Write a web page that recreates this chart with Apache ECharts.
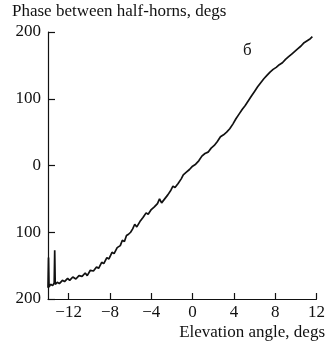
<!DOCTYPE html>
<html>
<head>
<meta charset="utf-8">
<script src="https://cdn.jsdelivr.net/npm/echarts@6/dist/echarts.min.js"></script>
<style>
html,body{margin:0;padding:0;background:#fff;}
#c{width:328px;height:347px;}
</style>
</head>
<body>
<div id="c"></div>
<script>
var xTicks = [-12, -8, -4, 0, 4, 8, 12];
var yTicks = [-200, -100, 0, 100, 200];
var elevation = [-14.0,-13.95,-13.9,-13.75,-13.55,-13.4,-13.35,-13.3,-13.1,-12.9,-12.6,-12.4,-12.1,-11.9,-11.6,-11.3,-11.0,-10.7,-10.4,-10.2,-9.9,-9.6,-9.3,-9.1,-8.8,-8.6,-8.3,-8.1,-7.8,-7.6,-7.3,-7.0,-6.8,-6.6,-6.4,-6.2,-6.0,-5.8,-5.6,-5.4,-5.1,-4.8,-4.5,-4.3,-4.0,-3.7,-3.4,-3.2,-3.0,-2.7,-2.4,-2.1,-1.9,-1.7,-1.4,-1.1,-0.9,-0.6,-0.3,0.0,0.3,0.6,0.9,1.2,1.5,1.8,2.1,2.4,2.7,3.0,3.3,3.6,3.9,4.2,4.5,4.8,5.1,5.4,5.7,6.0,6.3,6.6,6.9,7.2,7.5,7.8,8.1,8.4,8.7,9.0,9.3,9.6,9.9,10.2,10.5,10.8,11.1,11.4,11.6];
var phase = [-183,-138,-182,-178,-180,-176,-127,-178,-175,-177,-172,-174,-169,-172,-167,-170,-165,-166,-161,-165,-157,-158,-152,-154,-145,-147,-138,-140,-130,-132,-123,-120,-112,-114,-105,-103,-100,-95,-88,-92,-84,-78,-71,-73,-66,-62,-57,-50,-56,-50,-44,-37,-31,-33,-27,-20,-14,-10,-6,-1,2,7,14,18,20,26,30,36,43,46,50,55,62,70,77,84,90,97,104,111,118,124,130,135,140,144,147,151,154,159,163,167,171,175,179,184,187,190,193];

var pts = elevation.map(function(x, i){ return [x, phase[i]]; });
var font = '"Liberation Serif", "DejaVu Serif", serif';
var chart = echarts.init(document.getElementById('c'), null, {renderer:'canvas'});
chart.setOption({
  animation: false,
  backgroundColor: '#fff',
  grid: {left: 48, right: 10, top: 32, bottom: 48},
  xAxis: {
    type: 'value', min: -14, max: 12,
    axisLine: {show: true, onZero: false, lineStyle: {color: '#111', width: 1.2}},
    axisTick: {show: true, inside: true, length: 6, customValues: xTicks, lineStyle: {color: '#111', width: 1.2}},
    axisLabel: {customValues: xTicks, color: '#111', fontFamily: font, fontSize: 17, margin: 5,
      formatter: function(v){ return v < 0 ? '\u2212' + Math.abs(v) : String(v); }},
    splitLine: {show: false}
  },
  yAxis: {
    type: 'value', min: -200, max: 200, interval: 100,
    axisLine: {show: true, onZero: false, lineStyle: {color: '#111', width: 1.2}},
    axisTick: {show: true, inside: true, length: 7, lineStyle: {color: '#111', width: 1.2}},
    axisLabel: {color: '#111', fontFamily: font, fontSize: 17, margin: 7,
      formatter: function(v){ return String(Math.abs(v)); }},
    splitLine: {show: false}
  },
  graphic: [
    {type: 'text', left: 12, top: 3, style: {text: 'Phase between half-horns, degs', font: '17px ' + font, fill: '#111'}},
    {type: 'text', right: 3, top: 324, style: {text: 'Elevation angle, degs', font: '17px ' + font, fill: '#111'}},
    {type: 'text', left: 243, top: 42, style: {text: 'б', font: '17px ' + font, fill: '#111'}}
  ],
  series: [{
    type: 'line', data: pts, showSymbol: false, symbol: 'none',
    lineStyle: {color: '#111', width: 1.7}
  }]
});
</script>
</body>
</html>
